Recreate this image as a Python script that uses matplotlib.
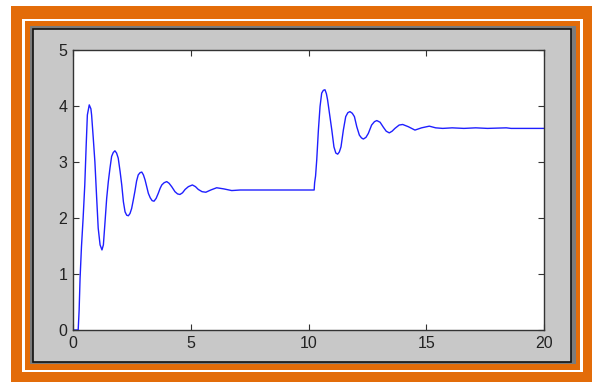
import matplotlib
matplotlib.use('Agg')
import matplotlib.pyplot as plt
from matplotlib.patches import Rectangle

# --- Data (time, response) ---
t_vals = [0.00, 0.22, 0.26, 0.30, 0.36, 0.43, 0.50, 0.56, 0.61, 0.69, 0.76,
          0.79, 0.86, 0.93, 1.00, 1.07, 1.15, 1.23, 1.29, 1.36, 1.43, 1.50,
          1.57, 1.64, 1.71, 1.78, 1.85, 1.92, 2.00, 2.07, 2.14, 2.21, 2.28,
          2.35, 2.42, 2.49, 2.56, 2.63, 2.70, 2.77, 2.85, 2.92, 2.99, 3.06,
          3.13, 3.20, 3.28, 3.36, 3.44, 3.53, 3.62, 3.70, 3.77, 3.87, 3.98,
          4.08, 4.19, 4.33, 4.44, 4.54, 4.65, 4.76, 4.90, 5.07, 5.20, 5.32,
          5.48, 5.64, 5.85, 6.10, 6.40, 6.74, 7.10, 10.24,
          10.26, 10.30, 10.35, 10.42, 10.49, 10.56, 10.63, 10.70, 10.76,
          10.81, 10.91, 10.99, 11.08, 11.16, 11.24, 11.31, 11.38, 11.48,
          11.58, 11.67, 11.76, 11.86, 11.95, 12.05, 12.16, 12.25, 12.33,
          12.44, 12.54, 12.68, 12.80, 12.90, 13.04, 13.18, 13.30, 13.43,
          13.55, 13.67, 13.85, 14.00, 14.24, 14.52, 14.80, 15.13, 15.40,
          15.70, 16.10, 16.60, 17.10, 17.60, 18.40, 18.60, 20.00]
y_vals = [0.00, 0.00, 0.35, 0.92, 1.49, 2.00, 2.59, 3.30, 3.84, 4.02, 3.95,
          3.84, 3.43, 3.00, 2.40, 1.82, 1.52, 1.43, 1.52, 1.93, 2.35, 2.65,
          2.89, 3.10, 3.17, 3.20, 3.16, 3.07, 2.83, 2.59, 2.29, 2.11, 2.05,
          2.04, 2.08, 2.17, 2.32, 2.48, 2.66, 2.77, 2.81, 2.82, 2.77, 2.68,
          2.56, 2.44, 2.36, 2.31, 2.30, 2.35, 2.44, 2.53, 2.59, 2.63, 2.65,
          2.62, 2.56, 2.47, 2.43, 2.42, 2.45, 2.51, 2.56, 2.59, 2.56, 2.51,
          2.47, 2.46, 2.50, 2.54, 2.52, 2.49, 2.50, 2.50,
          2.63, 2.75, 3.04, 3.57, 3.99, 4.23, 4.28, 4.29, 4.22,
          4.11, 3.81, 3.57, 3.27, 3.16, 3.14, 3.18, 3.27, 3.57,
          3.81, 3.88, 3.90, 3.87, 3.81, 3.63, 3.48, 3.43, 3.41,
          3.44, 3.51, 3.66, 3.72, 3.74, 3.71, 3.62, 3.55, 3.52,
          3.55, 3.60, 3.66, 3.67, 3.63, 3.57, 3.61, 3.64, 3.61,
          3.60, 3.61, 3.60, 3.61, 3.60, 3.61, 3.60, 3.60]

x_ticks = [0, 5, 10, 15, 20]
y_ticks = [0, 1, 2, 3, 4, 5]

ORANGE = '#e36c09'
PANEL = '#c8c8c8'

W, H = 592, 382
fig = plt.figure(figsize=(W / 100, H / 100), dpi=100)
fig.patch.set_facecolor('white')

# --- Decorative frame, drawn in pixel coordinates ---
bg = fig.add_axes([0, 0, 1, 1])
bg.set_xlim(0, W)
bg.set_ylim(H, 0)
bg.axis('off')

def box(x0, y0, x1, y1, **kw):
    bg.add_patch(Rectangle((x0, y0), x1 - x0, y1 - y0, **kw))

box(11, 6, 592, 382, facecolor=ORANGE, edgecolor='none')
box(22, 18.5, 583, 372, facecolor='white', edgecolor='none')
box(25, 21, 580, 369.5, facecolor=ORANGE, edgecolor='none')
box(30, 26, 576, 363.5, facecolor='#7c7c7c', edgecolor='none')
box(33, 29, 571, 361.5, facecolor=PANEL, edgecolor='#111111', linewidth=1.2)

# --- Main plot ---
ax = fig.add_axes([73 / W, 1 - 330 / H, (544 - 73) / W, (330 - 50) / H])
ax.set_facecolor('white')
ax.plot(t_vals, y_vals, color='#1f1fff', lw=1.0)

ax.set_xlim(0, 20)
ax.set_ylim(0, 5)
ax.set_xticks(x_ticks)
ax.set_yticks(y_ticks)
for s in ax.spines.values():
    s.set_color('#333333')
    s.set_linewidth(1.0)
ax.tick_params(direction='in', top=True, right=True, length=4, width=0.8,
               color='#333333', labelcolor='#222222')
ax.tick_params(axis='x', pad=4.5)
ax.tick_params(axis='y', pad=4)
for lab in ax.get_xticklabels() + ax.get_yticklabels():
    lab.set_fontfamily('Liberation Sans')
    lab.set_fontsize(11.5)

fig.savefig('out.png', dpi=100)
